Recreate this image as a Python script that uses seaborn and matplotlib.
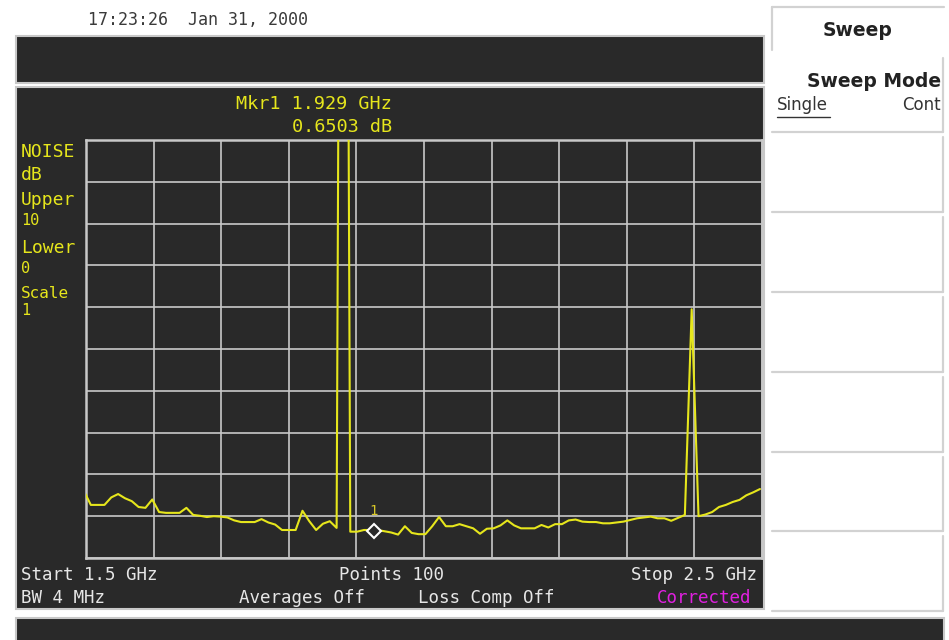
import numpy as np
import pandas as pd
import matplotlib
matplotlib.use("Agg")
import matplotlib.pyplot as plt
from matplotlib.patches import Rectangle
import seaborn as sns

# Sweep settings
start_ghz, stop_ghz = 1.5, 2.5
n_points = 100
bw_mhz = 4

# Measured noise trace (dB), one value per sweep point
noise_db = [
    1.60, 1.27, 1.27, 1.27, 1.45, 1.53, 1.43, 1.36, 1.22, 1.20,
    1.40, 1.10, 1.08, 1.08, 1.08, 1.20, 1.03, 1.01, 0.98, 1.00,
    0.99, 0.97, 0.90, 0.86, 0.86, 0.86, 0.93, 0.85, 0.80, 0.67,
    0.67, 0.67, 1.13, 0.88, 0.67, 0.82, 0.88, 0.72, 40.0, 0.63,
    0.63, 0.67, 0.67, 0.67, 0.64, 0.61, 0.56, 0.76, 0.60, 0.57,
    0.57, 0.76, 0.98, 0.76, 0.76, 0.81, 0.76, 0.71, 0.58, 0.70,
    0.71, 0.78, 0.90, 0.78, 0.71, 0.71, 0.71, 0.79, 0.73, 0.81,
    0.81, 0.90, 0.92, 0.87, 0.86, 0.86, 0.83, 0.83, 0.85, 0.87,
    0.91, 0.95, 0.97, 0.99, 0.95, 0.95, 0.89, 0.96, 1.03, 5.95,
    1.00, 1.04, 1.10, 1.22, 1.27, 1.34, 1.39, 1.50, 1.57, 1.65,
]

# Marker readout
marker_freq = 1.929
marker_db = 0.6503

# Display scaling
upper_db, lower_db, scale_db = 10, 0, 1

DARK = "#292929"
FRAME = "#c8c8c8"
KEYLINE = "#d2d2d2"
YELLOW = "#e6e61c"
MARKTXT = "#d8c828"
WHITE = "#e6e6e6"
MAGENTA = "#e020e0"

sns.set_theme(style="dark")
plt.rcParams["font.family"] = ["DejaVu Sans Mono", "DejaVu Sans"]

W, H = 949, 640
fig = plt.figure(figsize=(W / 100, H / 100), dpi=100, facecolor="white")

# Screen furniture in pixel coordinates
bg = fig.add_axes([0, 0, 1, 1])
bg.set_xlim(0, W)
bg.set_ylim(H, 0)
bg.axis("off")

def panel(x, y, w, h):
    bg.add_patch(Rectangle((x, y), w, h, facecolor=DARK, edgecolor=FRAME, lw=1.5))

panel(16.5, 36, 748, 47)
panel(16.5, 87, 748, 522)
panel(16.5, 618, 928, 40)

bg.text(88, 25, "17:23:26  Jan 31, 2000", color="#3a3a3a", fontsize=12,
        ha="left", va="baseline")

# Softkey panel
bg.plot([772, 772], [50, 7], color=KEYLINE, lw=1.6)
bg.plot([772, 944], [7, 7], color=KEYLINE, lw=1.6)
key_tops = [58, 137, 217, 297, 377, 457, 536]
key_bottoms = [132, 212, 292, 372, 452, 531, 611]
for top, bot in zip(key_tops, key_bottoms):
    bg.plot([943.5, 943.5], [top, bot], color=KEYLINE, lw=1.6)
    bg.plot([772, 943.5], [bot, bot], color=KEYLINE, lw=1.6)

bg.text(858, 35.5, "Sweep", family="DejaVu Sans", weight="bold", fontsize=13.5,
        color="#222222", ha="center", va="baseline")
bg.text(941, 87, "Sweep Mode", family="DejaVu Sans", weight="bold", fontsize=13.5,
        color="#222222", ha="right", va="baseline")
bg.text(777, 110, "Single", family="DejaVu Sans", fontsize=12,
        color="#333333", ha="left", va="baseline")
bg.plot([777, 830], [117, 117], color="#333333", lw=1.0)
bg.text(941, 110, "Cont", family="DejaVu Sans", fontsize=12,
        color="#333333", ha="right", va="baseline")

# Marker readout
bg.text(392, 109.3, f"Mkr1 {marker_freq:.3f} GHz", color=YELLOW, fontsize=13.3,
        ha="right", va="baseline")
bg.text(392, 131.7, f"{marker_db:.4f} dB", color=YELLOW, fontsize=13.3,
        ha="right", va="baseline")

# Left-hand scale annotations
left_labels = [
    ("NOISE", 156.7, 13), ("dB", 180, 13), ("Upper", 205, 13),
    (f"{upper_db}", 225, 11), ("Lower", 253, 13), (f"{lower_db}", 273, 11),
    ("Scale", 298, 11.5), (f"{scale_db}", 315, 11),
]
for txt, yb, fs in left_labels:
    bg.text(21, yb, txt, color=YELLOW, fontsize=fs, ha="left", va="baseline")

# Lower status lines
bg.text(21, 580, f"Start {start_ghz} GHz", color=WHITE, fontsize=12.6, ha="left", va="baseline")
bg.text(339, 580, f"Points {n_points}", color=WHITE, fontsize=12.6, ha="left", va="baseline")
bg.text(757, 580, f"Stop {stop_ghz} GHz", color=WHITE, fontsize=12.6, ha="right", va="baseline")
bg.text(21, 603, f"BW {bw_mhz} MHz", color=WHITE, fontsize=12.6, ha="left", va="baseline")
bg.text(239, 603, "Averages Off", color=WHITE, fontsize=12.6, ha="left", va="baseline")
bg.text(418, 603, "Loss Comp Off", color=WHITE, fontsize=12.6, ha="left", va="baseline")
bg.text(657, 603, "Corrected", color=MAGENTA, fontsize=12.6, ha="left", va="baseline")

# Trace graticule
ax = fig.add_axes([86 / W, 1 - 558 / H, 676 / W, 418 / H])
ax.set_facecolor(DARK)

freq = np.linspace(start_ghz, stop_ghz, n_points)
df = pd.DataFrame({"freq": freq, "noise": noise_db})
sns.lineplot(data=df, x="freq", y="noise", ax=ax, color=YELLOW, lw=1.5, zorder=3)

x0, x1 = start_ghz + 0.003, stop_ghz + 0.003
ax.set_xlim(x0, x1)
ax.set_ylim(lower_db, upper_db)
ax.set_xticks(np.linspace(x0, x1, 11))
ax.set_yticks(np.arange(lower_db, upper_db + scale_db, scale_db))
ax.grid(True, color=FRAME, lw=1.2)
ax.tick_params(length=0, labelbottom=False, labelleft=False)
ax.set_xlabel("")
ax.set_ylabel("")
for s in ax.spines.values():
    s.set_visible(True)
    s.set_color(FRAME)
    s.set_linewidth(1.8)

ax.plot([marker_freq], [marker_db], marker="D", markersize=7.5, markerfacecolor=DARK,
        markeredgecolor="white", markeredgewidth=1.5, linestyle="none", zorder=5)
ax.annotate("1", xy=(marker_freq, marker_db), xytext=(0, 9), textcoords="offset points",
            ha="center", va="bottom", color=MARKTXT, fontsize=10)

fig.savefig("out.png", dpi=100, facecolor="white")
